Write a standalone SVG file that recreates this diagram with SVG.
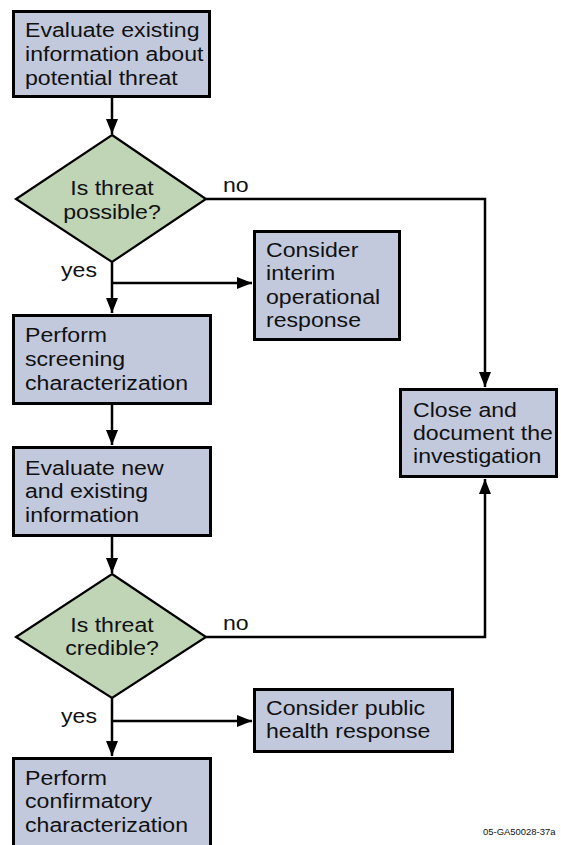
<svg xmlns="http://www.w3.org/2000/svg" width="561" height="845" viewBox="0 0 561 845">
<style>
.box{fill:#c2c9dc;stroke:#000;stroke-width:3}
.dia{fill:#c0d4b6;stroke:#000;stroke-width:2.2}
.t{font-family:"Liberation Sans",Arial,sans-serif;font-size:21px;fill:#111}
.c{text-anchor:middle}
.con{fill:none;stroke:#000;stroke-width:2.5}
.lbl{font-family:"Liberation Sans",Arial,sans-serif;font-size:21px;fill:#111}
</style>
<defs>
<marker id="ah" markerUnits="userSpaceOnUse" markerWidth="16" markerHeight="12" refX="15" refY="6" orient="auto">
<path d="M0,0 L15,6 L0,12 z" fill="#000"/>
</marker>
</defs>
<rect width="561" height="845" fill="#fff"/>
<g id="connectors">
<path class="con" d="M112,98 V134" marker-end="url(#ah)"/>
<path class="con" d="M206,199 H485 V387" marker-end="url(#ah)"/>
<path class="con" d="M112,262 V313" marker-end="url(#ah)"/>
<path class="con" d="M112,283 H252" marker-end="url(#ah)"/>
<path class="con" d="M112,405 V445" marker-end="url(#ah)"/>
<path class="con" d="M112,537 V573" marker-end="url(#ah)"/>
<path class="con" d="M206,637 H485 V479" marker-end="url(#ah)"/>
<path class="con" d="M112,698 V756" marker-end="url(#ah)"/>
<path class="con" d="M112,721 H252" marker-end="url(#ah)"/>
<g transform="translate(223 0) scale(1.1 1)"><text class="lbl" x="0" y="192">no</text></g>
<g transform="translate(61 0) scale(1.1 1)"><text class="lbl" x="0" y="277">yes</text></g>
<g transform="translate(223 0) scale(1.1 1)"><text class="lbl" x="0" y="630">no</text></g>
<g transform="translate(61 0) scale(1.1 1)"><text class="lbl" x="0" y="723">yes</text></g>
</g>
<g id="evaluate-existing">
<rect class="box" x="13.5" y="11.5" width="196" height="85"/>
<g transform="translate(25 0) scale(1.1 1)"><text class="t"><tspan x="0" y="37">Evaluate existing</tspan><tspan x="0" y="61">information about</tspan><tspan x="0" y="85">potential threat</tspan></text></g>
</g>
<g id="threat-possible">
<polygon class="dia" points="112,135 206,199 112,262 16,199"/>
<g transform="translate(112 0) scale(1.1 1)"><text class="t c"><tspan x="0" y="195">Is threat</tspan><tspan x="0" y="219">possible?</tspan></text></g>
</g>
<g id="interim-response">
<rect class="box" x="254.5" y="231.5" width="145" height="108"/>
<g transform="translate(266 0) scale(1.1 1)"><text class="t"><tspan x="0" y="257">Consider</tspan><tspan x="0" y="280">interim</tspan><tspan x="0" y="304">operational</tspan><tspan x="0" y="327">response</tspan></text></g>
</g>
<g id="screening">
<rect class="box" x="13.5" y="315.5" width="197" height="88"/>
<g transform="translate(25 0) scale(1.1 1)"><text class="t"><tspan x="0" y="342">Perform</tspan><tspan x="0" y="366">screening</tspan><tspan x="0" y="390">characterization</tspan></text></g>
</g>
<g id="evaluate-new">
<rect class="box" x="13.5" y="447.5" width="197" height="88"/>
<g transform="translate(25 0) scale(1.1 1)"><text class="t"><tspan x="0" y="475">Evaluate new</tspan><tspan x="0" y="498">and existing</tspan><tspan x="0" y="522">information</tspan></text></g>
</g>
<g id="threat-credible">
<polygon class="dia" points="112,574 206,637 112,698 16,637"/>
<g transform="translate(112 0) scale(1.1 1)"><text class="t c"><tspan x="0" y="632">Is threat</tspan><tspan x="0" y="655">credible?</tspan></text></g>
</g>
<g id="close">
<rect class="box" x="400.5" y="389.5" width="156" height="87"/>
<g transform="translate(413 0) scale(1.1 1)"><text class="t"><tspan x="0" y="417">Close and</tspan><tspan x="0" y="440">document the</tspan><tspan x="0" y="463">investigation</tspan></text></g>
</g>
<g id="public-health">
<rect class="box" x="254.5" y="689.5" width="198" height="62"/>
<g transform="translate(266 0) scale(1.1 1)"><text class="t"><tspan x="0" y="715">Consider public</tspan><tspan x="0" y="738">health response</tspan></text></g>
</g>
<g id="confirmatory">
<rect class="box" x="13.5" y="758.5" width="197" height="95"/>
<g transform="translate(25 0) scale(1.1 1)"><text class="t"><tspan x="0" y="785">Perform</tspan><tspan x="0" y="808">confirmatory</tspan><tspan x="0" y="832">characterization</tspan></text></g>
</g>
<g transform="translate(483 0) scale(1.05 1)"><text x="0" y="835" style="font-family:'Liberation Sans',Arial,sans-serif;font-size:9px;fill:#111">05-GA50028-37a</text></g>
</svg>
